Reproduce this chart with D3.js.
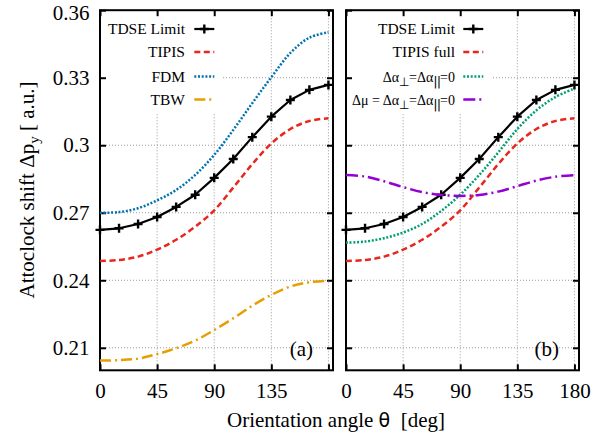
<!DOCTYPE html>
<html><head><meta charset="utf-8">
<script src="https://cdn.jsdelivr.net/npm/d3@7"></script>
<style>
body{margin:0;background:#fff}
svg{display:block}
text{font-family:"Liberation Serif","Times New Roman",serif;fill:#000}
</style>
</head><body>
<svg id="c" width="614" height="438"></svg>
<script>
// ---- data ----
const angles   = [0,15,30,45,60,75,90,105,120,135,150,165,180];
const tdse     = [0.2624,0.2631,0.2650,0.2681,0.2726,0.2780,0.2855,0.2939,0.3036,0.3127,0.3201,0.3246,0.3268];
const tipis    = [0.2486,0.2490,0.2505,0.2536,0.2580,0.2638,0.2711,0.2812,0.2916,0.3008,0.3072,0.3108,0.3120];
const fdm      = [0.2700,0.2703,0.2720,0.2755,0.2801,0.2868,0.2957,0.3068,0.3187,0.3302,0.3410,0.3478,0.3502];
const tbw      = [0.2043,0.2045,0.2052,0.2072,0.2098,0.2132,0.2179,0.2231,0.2287,0.2335,0.2372,0.2391,0.2398];
const noPol    = [0.2567,0.2572,0.2587,0.2612,0.2650,0.2708,0.2780,0.2868,0.2968,0.3072,0.3155,0.3214,0.3252];
const noPolDip = [0.2868,0.2861,0.2840,0.2814,0.2792,0.2779,0.2775,0.2779,0.2794,0.2818,0.2843,0.2860,0.2867];

const xTicks = [0,45,90,135,180];
const xTickLabelsA = ["0","45","90","135",""];
const xTickLabelsB = ["0","45","90","135","180"];
const yTicks = [0.21,0.24,0.27,0.30,0.33,0.36];
const yTickLabels = ["0.21","0.24","0.27","0.3","0.33","0.36"];

const namesA = [[["TDSE Limit"]],[["TIPIS"]],[["FDM"]],[["TBW"]]];
const namesB = [[["TDSE Limit"]],[["TIPIS full"]],
  [["Δα"],["⊥",1],["=Δα"],["||",2],["=0"]],
  [["Δμ = Δα"],["⊥",1],["=Δα"],["||",2],["=0"]]];

// ---- styles ----
const st = {
  tdse:{color:"#000",dash:null,marker:true,w:2.2},
  tipis:{color:"#e8261e",dash:"6,3.5",w:2.5},
  fdm:{color:"#0072b2",dash:"2,1.7",w:2.5},
  tbw:{color:"#e69f00",dash:"11,4,2,4",w:2.5},
  nopol:{color:"#009e73",dash:"2,1.7",w:2.5},
  nopoldip:{color:"#9400d3",dash:"12,4,2,4",w:2.5}
};

const svg = d3.select("#c");
const y = d3.scaleLinear().domain([0.2,0.36]).range([370.3,10.2]);

const panels = [
  {x:d3.scaleLinear().domain([0,183.6]).range([100,333]), tag:"(a)", yLab:true, xLabs:xTickLabelsA,
   key:{right:223,textEnd:185,s0:194.3,s1:214.3}, series:[[tdse,st.tdse],[tipis,st.tipis],[fdm,st.fdm],[tbw,st.tbw]], names:namesA},
  {x:d3.scaleLinear().domain([0,183.6]).range([346,579]), tag:"(b)", yLab:false, xLabs:xTickLabelsB,
   key:{right:491,textEnd:455,s0:463.3,s1:483.3}, series:[[tdse,st.tdse],[tipis,st.tipis],[noPol,st.nopol],[noPolDip,st.nopoldip]], names:namesB}
];

const keyRows = [29,52,76.5,99.5];

function plus(g, cx, cy, color){
  g.append("path").attr("d",`M${cx-4.5},${cy}H${cx+4.5}M${cx},${cy-4.5}V${cy+4.5}`)
   .attr("stroke",color).attr("stroke-width",2.4).attr("fill","none");
}

panels.forEach(p=>{
  const g = svg.append("g");
  const [x0,x1] = p.x.range();
  const [yb,yt] = y.range();
  // grid
  const grid = g.append("g").attr("stroke","#9a9a9a").attr("stroke-width",1).attr("stroke-dasharray","1,2").attr("fill","none");
  xTicks.forEach(t=>grid.append("line").attr("x1",p.x(t)).attr("x2",p.x(t)).attr("y1",yb).attr("y2",yt));
  yTicks.slice(0,5).forEach(t=>grid.append("line").attr("x1",x0).attr("x2",x1).attr("y1",y(t)).attr("y2",y(t)));
  // opaque key box
  g.append("rect").attr("x",x0+1).attr("y",yt+1).attr("width",p.key.right-x0-1).attr("height",113-yt-1).attr("fill","#fff");

  // axes (inward ticks on all four sides)
  const ax = (axis, tr)=> {
    const a = g.append("g").attr("transform",tr).call(axis);
    a.attr("font-family",null).attr("font-size",null);
    a.select(".domain").remove();
    a.selectAll(".tick line").attr("stroke","#000").attr("stroke-width",2);
    a.selectAll("text").attr("font-size",21);
    return a;
  };
  ax(d3.axisBottom(p.x).tickValues(xTicks).tickSize(-6).tickPadding(13).tickFormat((d,i)=>p.xLabs[i]), `translate(0,${yb})`);
  ax(d3.axisTop(p.x).tickValues(xTicks).tickSize(-6).tickFormat(""), `translate(0,${yt})`);
  const la = ax(d3.axisLeft(y).tickValues(yTicks).tickSize(-6).tickPadding(10.5).tickFormat((d,i)=>p.yLab?yTickLabels[i]:""), `translate(${x0},0)`);
  la.selectAll(".tick text").filter(d=>d===0.36).attr("dy","0.42em");
  ax(d3.axisRight(y).tickValues(yTicks).tickSize(-6).tickFormat(""), `translate(${x1},0)`);

  // border
  g.append("rect").attr("x",x0).attr("y",yt).attr("width",x1-x0).attr("height",yb-yt)
   .attr("fill","none").attr("stroke","#000").attr("stroke-width",2);

  // curves
  p.series.forEach(([vals,s])=>{
    const pts = angles.map((a,i)=>[a,vals[i]]);
    const line = d3.line().x(d=>p.x(d[0])).y(d=>y(d[1]))
      .curve(s.marker?d3.curveLinear:d3.curveCatmullRom.alpha(0.5));
    g.append("path").attr("d",line(pts)).attr("fill","none").attr("stroke",s.color)
     .attr("stroke-width",s.w).attr("stroke-dasharray",s.dash).attr("stroke-linejoin","round");
    if(s.marker) pts.forEach(d=>plus(g,p.x(d[0]),y(d[1]),s.color));
  });

  // key
  p.series.forEach(([vals,s],i)=>{
    const cy = keyRows[i];
    g.append("line").attr("x1",p.key.s0).attr("x2",p.key.s1).attr("y1",cy).attr("y2",cy)
     .attr("stroke",s.color).attr("stroke-width",s.w).attr("stroke-dasharray",s.dash);
    if(s.marker) plus(g,(p.key.s0+p.key.s1)/2,cy,s.color);
    const greek = p.names[i].length>1;
    const t = g.append("text").attr("x",p.key.textEnd).attr("y",cy+5).attr("text-anchor","end").attr("font-size",greek?14:15.5);
    let sub=false;
    p.names[i].forEach(([str,isSub])=>{
      const ts = t.append("tspan").text(str);
      if(isSub){
        ts.attr("font-size",isSub===2?13:11.5);
        if(isSub===2) ts.attr("font-family","DejaVu Sans, sans-serif").attr("letter-spacing",-1);
        if(!sub){ts.attr("dy",4); sub=true;}
      } else if(sub){ts.attr("dy",-4); sub=false;}
    });
  });

  // panel tag
  g.append("text").attr("x",x1-20).attr("y",355.5).attr("text-anchor","end").attr("font-size",21).text(p.tag);
});

// axis titles
const yl = svg.append("text").attr("transform","translate(34,190) rotate(-90)").attr("text-anchor","middle").attr("font-size",21);
yl.append("tspan").text("Attoclock shift Δp");
yl.append("tspan").attr("dy",5).attr("font-size",15).text("y");
yl.append("tspan").attr("dy",-5).attr("xml:space","preserve").text(" [ a.u.]");

const xl = svg.append("text").attr("x",336).attr("y",427).attr("text-anchor","middle").attr("font-size",21).attr("xml:space","preserve");
xl.append("tspan").text("Orientation angle ");
xl.append("tspan").attr("font-family","DejaVu Sans, sans-serif").attr("font-size",19).text("θ");
xl.append("tspan").text("  [deg]");
</script>
</body></html>
